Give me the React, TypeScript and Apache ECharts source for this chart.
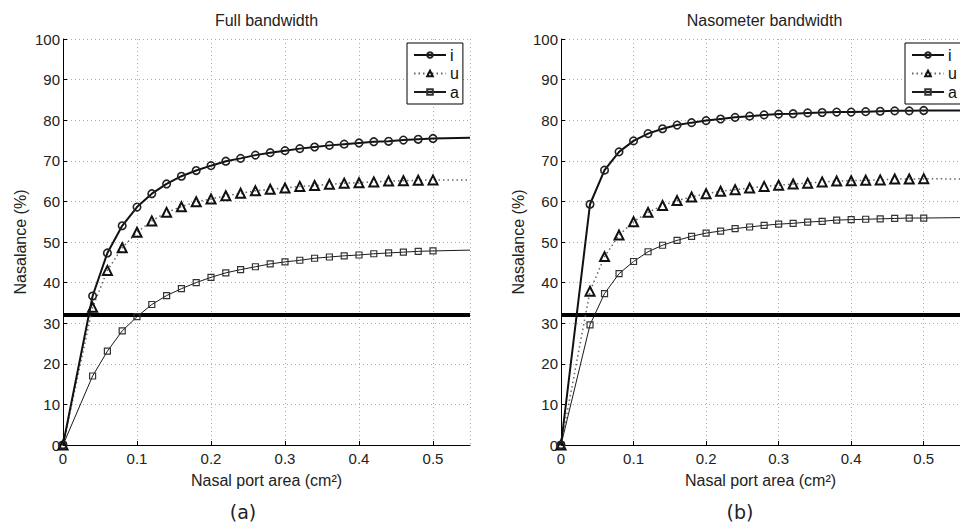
import React, { useEffect, useRef } from 'react';
import * as echarts from 'echarts';

// Nasal port area (cm^2) at which the markers are drawn
const xs = [0, 0.04, 0.06, 0.08, 0.1, 0.12, 0.14, 0.16, 0.18, 0.2, 0.22, 0.24, 0.26, 0.28, 0.3, 0.32, 0.34, 0.36, 0.38, 0.4, 0.42, 0.44, 0.46, 0.48, 0.5];
// the curves continue (without markers) to the edge of the axes
const xEnd = 0.55;

// (a) Full bandwidth
const fullI = [0, 36.7, 47.3, 54.0, 58.6, 61.9, 64.3, 66.2, 67.6, 68.8, 69.9, 70.6, 71.4, 72.0, 72.5, 73.0, 73.4, 73.8, 74.1, 74.4, 74.7, 74.8, 75.1, 75.3, 75.5];
const fullU = [0, 33.9, 43.0, 48.6, 52.4, 55.2, 57.3, 58.7, 59.9, 60.6, 61.4, 62.0, 62.6, 63.0, 63.3, 63.7, 63.9, 64.2, 64.5, 64.6, 64.8, 65.0, 65.1, 65.2, 65.3];
const fullA = [0, 17.0, 23.1, 28.1, 31.6, 34.6, 36.8, 38.5, 40.0, 41.3, 42.4, 43.2, 43.9, 44.6, 45.1, 45.5, 46.0, 46.3, 46.6, 46.8, 47.1, 47.3, 47.5, 47.7, 47.8];
const fullEnd = [75.7, 65.3, 48.0];

// (b) Nasometer bandwidth
const nasI = [0, 59.3, 67.7, 72.2, 74.9, 76.7, 77.9, 78.8, 79.4, 79.9, 80.3, 80.7, 81.0, 81.3, 81.5, 81.6, 81.8, 81.9, 82.0, 82.0, 82.1, 82.2, 82.3, 82.3, 82.4];
const nasU = [0, 37.9, 46.4, 51.7, 55.0, 57.3, 59.0, 60.2, 61.1, 61.9, 62.5, 62.9, 63.3, 63.7, 64.0, 64.3, 64.5, 64.8, 65.0, 65.1, 65.2, 65.3, 65.5, 65.5, 65.6];
const nasA = [0, 29.6, 37.3, 42.2, 45.2, 47.6, 49.2, 50.4, 51.4, 52.2, 52.7, 53.3, 53.7, 54.1, 54.4, 54.6, 54.9, 55.1, 55.4, 55.5, 55.6, 55.7, 55.8, 55.9, 55.9];
const nasEnd = [82.4, 65.5, 56.0];

const threshold = 32;
const seriesNames = ['i', 'u', 'a'];
const panelTitles = ['Full bandwidth', 'Nasometer bandwidth'];
const captions = ['(a)', '(b)'];
const xTitle = 'Nasal port area (cm²)';
const yTitle = 'Nasalance (%)';

const FONT = 'Liberation Sans, Arial, Helvetica, sans-serif';
const GRID_LEFT = [63, 561];
const GRID_TOP = 39;
const GRID_W = 407;
const GRID_H = 406;

function toData(vals: number[], end: number) {
  const d: any[] = xs.map((x, k) => [x, vals[k]]);
  d.push({ value: [xEnd, end], symbol: 'none' });
  return d;
}

function panelSeries(g: number, iv: number[], uv: number[], av: number[], ends: number[]) {
  return [
    {
      name: 'threshold',
      type: 'line',
      xAxisIndex: g,
      yAxisIndex: g,
      data: [[0, threshold], [xEnd, threshold]],
      symbol: 'none',
      lineStyle: { color: '#000', width: 4 },
      silent: true,
      z: 1,
    },
    {
      name: seriesNames[2],
      type: 'line',
      xAxisIndex: g,
      yAxisIndex: g,
      data: toData(av, ends[2]),
      symbol: 'rect',
      symbolSize: 6,
      lineStyle: { color: '#1a1a1a', width: 1 },
      itemStyle: { color: 'rgba(255,255,255,0)', borderColor: '#333', borderWidth: 1.2 },
      z: 2,
    },
    {
      name: seriesNames[1],
      type: 'line',
      xAxisIndex: g,
      yAxisIndex: g,
      data: toData(uv, ends[1]),
      symbol: 'triangle',
      symbolSize: 9,
      lineStyle: { color: '#666', width: 1.5, type: [1.5, 3] },
      itemStyle: { color: 'rgba(255,255,255,0)', borderColor: '#111', borderWidth: 2 },
      z: 3,
    },
    {
      name: seriesNames[0],
      type: 'line',
      xAxisIndex: g,
      yAxisIndex: g,
      data: toData(iv, ends[0]),
      symbol: 'circle',
      symbolSize: 7.5,
      lineStyle: { color: '#111', width: 2 },
      itemStyle: { color: 'rgba(255,255,255,0)', borderColor: '#222', borderWidth: 1.6 },
      z: 4,
    },
  ];
}

function makeXAxis(g: number) {
  return {
    type: 'value',
    gridIndex: g,
    min: 0,
    max: xEnd,
    interval: 0.1,
    name: xTitle,
    nameLocation: 'middle',
    nameGap: 27,
    nameTextStyle: { fontSize: 16, color: '#222', fontFamily: FONT },
    axisLine: { show: true, lineStyle: { color: '#000', width: 1 } },
    axisTick: { show: true, inside: true, length: 4, lineStyle: { color: '#000' } },
    axisLabel: { fontSize: 15, color: '#222', margin: 6, showMaxLabel: false, fontFamily: FONT },
    splitLine: { show: true, lineStyle: { color: '#aaa', width: 1, type: [1, 3] } },
  };
}

function makeYAxis(g: number) {
  return {
    type: 'value',
    gridIndex: g,
    min: 0,
    max: 100,
    interval: 10,
    name: yTitle,
    nameLocation: 'middle',
    nameGap: 35,
    nameTextStyle: { fontSize: 16, color: '#222', fontFamily: FONT },
    axisLine: { show: true, lineStyle: { color: '#000', width: 1 } },
    axisTick: { show: true, inside: true, length: 4, lineStyle: { color: '#000' } },
    axisLabel: { fontSize: 15, color: '#222', margin: 3, fontFamily: FONT },
    splitLine: { show: true, lineStyle: { color: '#aaa', width: 1, type: [1, 3] } },
  };
}

function makeLegend(left: number) {
  return {
    data: seriesNames,
    orient: 'vertical',
    left,
    top: 43,
    backgroundColor: '#fff',
    borderColor: '#000',
    borderWidth: 1,
    borderRadius: 0,
    padding: [4, 4, 4, 6],
    itemWidth: 32,
    itemHeight: 7,
    itemGap: 2.5,
    textStyle: { fontSize: 16, color: '#111', fontFamily: FONT, lineHeight: 16, padding: [0, 0, 0, -1] },
    selectedMode: false,
  };
}

const option: any = {
  animation: false,
  backgroundColor: '#fff',
  textStyle: { fontFamily: FONT },
  grid: GRID_LEFT.map((l) => ({ left: l, top: GRID_TOP, width: GRID_W, height: GRID_H, containLabel: false })),
  xAxis: [makeXAxis(0), makeXAxis(1)],
  yAxis: [makeYAxis(0), makeYAxis(1)],
  legend: [makeLegend(407), makeLegend(905)],
  series: [
    ...panelSeries(0, fullI, fullU, fullA, fullEnd),
    ...panelSeries(1, nasI, nasU, nasA, nasEnd),
  ],
  graphic: [
    ...panelTitles.map((t, k) => ({
      type: 'text',
      x: GRID_LEFT[k] + GRID_W / 2,
      y: 20,
      style: { text: t, fontSize: 16, fill: '#222', fontFamily: FONT, align: 'center', verticalAlign: 'middle' },
    })),
    ...captions.map((t, k) => ({
      type: 'text',
      x: k === 0 ? 243 : 740,
      y: 512,
      style: { text: t, fontSize: 19, fill: '#222', fontFamily: 'DejaVu Sans, sans-serif', align: 'center', verticalAlign: 'middle' },
    })),
  ],
};

export default function App() {
  const ref = useRef<HTMLDivElement>(null);
  useEffect(() => {
    const chart = echarts.init(ref.current as HTMLDivElement, null, { renderer: 'svg' });
    chart.setOption(option);
    return () => chart.dispose();
  }, []);
  return (
    <div
      ref={ref}
      style={{ position: 'absolute', left: 0, top: 0, width: 960, height: 523, background: '#fff' }}
    />
  );
}
